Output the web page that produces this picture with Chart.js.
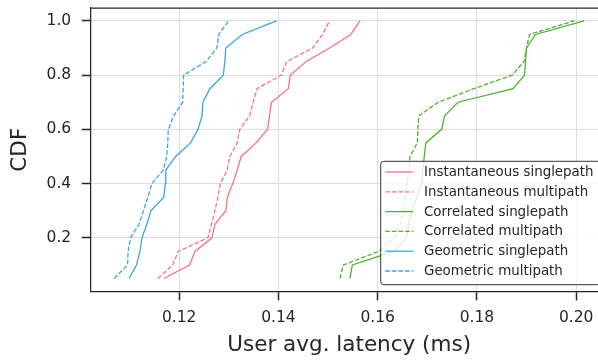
<!DOCTYPE html>
<html>
<head>
<meta charset="utf-8">
<title>User latency CDF</title>
<script src="https://cdn.jsdelivr.net/npm/chart.js@4/dist/chart.umd.min.js"></script>
<style>
  html, body { margin: 0; padding: 0; overflow: hidden; background: #ffffff; }
  canvas { display: block; }
</style>
</head>
<body>
<canvas id="cdf" width="612" height="362"></canvas>
<script>
// Empirical CDF levels (20 users) shared by every series
const cdfLevels = [0.05, 0.10, 0.15, 0.20, 0.25, 0.30, 0.35, 0.40, 0.45, 0.50,
                   0.55, 0.60, 0.65, 0.70, 0.75, 0.80, 0.85, 0.90, 0.95, 1.00];

// Sorted per-user average latency (ms)
const instSingle = [0.1169, 0.1221, 0.1232, 0.1266, 0.1272, 0.1294, 0.1297, 0.1308, 0.1317, 0.1325,
                    0.1355, 0.1378, 0.1382, 0.1386, 0.1420, 0.1424, 0.1456, 0.1503, 0.1546, 0.1564];
const instMulti  = [0.1157, 0.1187, 0.1198, 0.1258, 0.1265, 0.1272, 0.1278, 0.1283, 0.1297, 0.1302,
                    0.1317, 0.1322, 0.1342, 0.1349, 0.1357, 0.1406, 0.1417, 0.1469, 0.1489, 0.1503];
const corrSingle = [0.1544, 0.1549, 0.1633, 0.1658, 0.1662, 0.1668, 0.1679, 0.1689, 0.1691, 0.1694,
                    0.1697, 0.1729, 0.1735, 0.1762, 0.1873, 0.1896, 0.1898, 0.1900, 0.1918, 0.2016];
const corrMulti  = [0.1524, 0.1531, 0.1602, 0.1633, 0.1645, 0.1651, 0.1656, 0.1659, 0.1663, 0.1665,
                    0.1680, 0.1681, 0.1683, 0.1722, 0.1794, 0.1871, 0.1895, 0.1900, 0.1906, 0.1996];
const geoSingle  = [0.1099, 0.1114, 0.1121, 0.1125, 0.1135, 0.1143, 0.1169, 0.1172, 0.1173, 0.1193,
                    0.1223, 0.1238, 0.1246, 0.1248, 0.1262, 0.1289, 0.1292, 0.1294, 0.1327, 0.1396];
const geoMulti   = [0.1069, 0.1096, 0.1097, 0.1102, 0.1119, 0.1128, 0.1137, 0.1145, 0.1168, 0.1175,
                    0.1177, 0.1178, 0.1189, 0.1207, 0.1208, 0.1209, 0.1254, 0.1276, 0.1280, 0.1300];

const seriesNames = ['Instantaneous singlepath', 'Instantaneous multipath',
                     'Correlated singlepath', 'Correlated multipath',
                     'Geometric singlepath', 'Geometric multipath'];

const xTicks = [0.12, 0.14, 0.16, 0.18, 0.20];
const xTickLabels = ['0.12', '0.14', '0.16', '0.18', '0.20'];
const yTicks = [0.2, 0.4, 0.6, 0.8, 1.0];
const yTickLabels = ['0.2', '0.4', '0.6', '0.8', '1.0'];

const PINK = '#f77189', GREEN = '#50b131', BLUE = '#3ba3ec';
const INK = '#262626';
const DASH = [4.6, 2];
const FONT = '"DejaVu Sans", Verdana, sans-serif';

function toPoints(values) {
  return values.map((x, i) => ({ x: x, y: cdfLevels[i] }));
}

function series(label, values, color, dashed) {
  return {
    label: label,
    data: toPoints(values),
    borderColor: color,
    backgroundColor: color,
    borderWidth: 1.3,
    borderDash: dashed ? DASH : [],
    showLine: true,
    fill: false,
    tension: 0,
    pointRadius: 0,
    pointHoverRadius: 0
  };
}

// Fixed axis band sizes; tick labels never sit on the plot edges here,
// so the edge overflow padding is dropped.
function fixBand(size, horizontal) {
  return s => {
    if (horizontal) { s.height = size; } else { s.width = size; }
    s.paddingTop = 0; s.paddingBottom = 0; s.paddingLeft = 0; s.paddingRight = 0;
  };
}

// Closes the frame (top/right) and draws an in-axes legend at lower right
const frameAndLegend = {
  id: 'frameAndLegend',
  afterDatasetsDraw(chart) {
    const { ctx, chartArea: a } = chart;
    ctx.save();
    ctx.strokeStyle = INK;
    ctx.lineWidth = 1.25;
    ctx.setLineDash([]);
    ctx.beginPath();
    ctx.moveTo(a.left, a.top);
    ctx.lineTo(a.right, a.top);
    ctx.lineTo(a.right, a.bottom);
    ctx.stroke();

    const pad = 6.7, boxW = 220.2, boxH = 123.4;
    const bx = a.right - pad - boxW, by = a.bottom - pad - boxH;
    const r = 3;
    ctx.beginPath();
    ctx.moveTo(bx + r, by);
    ctx.lineTo(bx + boxW - r, by);
    ctx.arcTo(bx + boxW, by, bx + boxW, by + r, r);
    ctx.lineTo(bx + boxW, by + boxH - r);
    ctx.arcTo(bx + boxW, by + boxH, bx + boxW - r, by + boxH, r);
    ctx.lineTo(bx + r, by + boxH);
    ctx.arcTo(bx, by + boxH, bx, by + boxH - r, r);
    ctx.lineTo(bx, by + r);
    ctx.arcTo(bx, by, bx + r, by, r);
    ctx.closePath();
    ctx.fillStyle = 'rgba(255,255,255,0.8)';
    ctx.fill();
    ctx.strokeStyle = '#333333';
    ctx.lineWidth = 1;
    ctx.stroke();

    ctx.font = '13.4px ' + FONT;
    ctx.textBaseline = 'middle';
    ctx.textAlign = 'left';
    chart.data.datasets.forEach((ds, i) => {
      const cy = by + 10.7 + i * 19.8;
      ctx.strokeStyle = ds.borderColor;
      ctx.lineWidth = ds.borderWidth;
      ctx.setLineDash(ds.borderDash);
      ctx.beginPath();
      ctx.moveTo(bx + 4.6, cy);
      ctx.lineTo(bx + 32.6, cy);
      ctx.stroke();
      ctx.setLineDash([]);
      ctx.fillStyle = INK;
      ctx.fillText(ds.label, bx + 43.3, cy + 0.5);
    });
    ctx.restore();
  }
};

new Chart(document.getElementById('cdf'), {
  type: 'scatter',
  data: {
    datasets: [
      series(seriesNames[0], instSingle, PINK, false),
      series(seriesNames[1], instMulti, PINK, true),
      series(seriesNames[2], corrSingle, GREEN, false),
      series(seriesNames[3], corrMulti, GREEN, true),
      series(seriesNames[4], geoSingle, BLUE, false),
      series(seriesNames[5], geoMulti, BLUE, true)
    ]
  },
  options: {
    responsive: false,
    animation: false,
    devicePixelRatio: 1,
    layout: { padding: { top: 8, right: 4.4, left: 0, bottom: 0 } },
    plugins: {
      legend: { display: false },
      tooltip: { enabled: false }
    },
    scales: {
      x: {
        type: 'linear',
        min: 0.10217,
        max: 0.20634,
        afterBuildTicks: s => { s.ticks = xTicks.map(v => ({ value: v })); },
        afterFit: fixBand(70.6, true),
        ticks: {
          callback: v => xTickLabels[xTicks.indexOf(v)],
          color: INK,
          font: { family: FONT, size: 15.5 },
          padding: 7.8,
          maxRotation: 0,
          autoSkip: false
        },
        grid: { color: '#dddddd', lineWidth: 1, tickColor: INK, tickWidth: 1.5, tickLength: 9 },
        border: { color: INK, width: 1.25 },
        title: {
          display: true,
          text: 'User avg. latency (ms)',
          color: INK,
          font: { family: FONT, size: 21.5, lineHeight: 1 },
          padding: { top: 0, bottom: 5.4 }
        }
      },
      y: {
        type: 'linear',
        min: 0.0025,
        max: 1.0475,
        afterBuildTicks: s => { s.ticks = yTicks.map(v => ({ value: v })); },
        afterFit: fixBand(90.7, false),
        ticks: {
          callback: v => yTickLabels[yTicks.indexOf(v)],
          color: INK,
          font: { family: FONT, size: 15.5 },
          padding: 10.5,
          autoSkip: false
        },
        grid: { color: '#dddddd', lineWidth: 1, tickColor: INK, tickWidth: 1.5, tickLength: 9 },
        border: { color: INK, width: 1.25 },
        title: {
          display: true,
          text: 'CDF',
          color: INK,
          font: { family: FONT, size: 21.5, lineHeight: 1 },
          padding: { top: 9.2, bottom: 0 }
        }
      }
    }
  },
  plugins: [frameAndLegend]
});
</script>
</body>
</html>
